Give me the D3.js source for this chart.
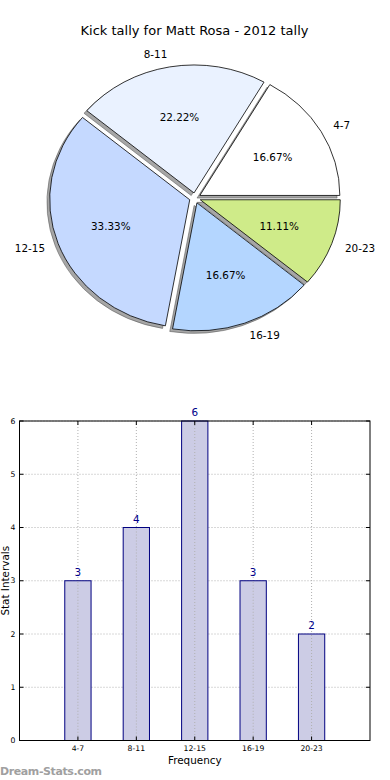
<!DOCTYPE html>
<html>
<head>
<meta charset="utf-8">
<script src="https://cdn.jsdelivr.net/npm/d3@7"></script>
<style>
  body { margin: 0; background: #fff; }
  svg { display: block; font-family: "DejaVu Sans", sans-serif; }
</style>
</head>
<body>
<script>
// chart data
const categories = ["4-7", "8-11", "12-15", "16-19", "20-23"];
const counts = [3, 4, 6, 3, 2];
const sliceColors = ["#ffffff", "#eaf2ff", "#c5d9ff", "#b4d6ff", "#cfeb89"];
const yTicks = [0, 1, 2, 3, 4, 5, 6];
const title = "Kick tally for Matt Rosa - 2012 tally";

const W = 390, H = 780;
const svg = d3.select("body").append("svg")
    .attr("width", W)
    .attr("height", H);

// ---- pie ----
const cx = 195, cy = 198;   // pie centre
const sx = 140, sy = 128;   // the pie is squashed (axes not equal)
const explode = 0.04;

svg.append("text")
    .attr("x", 194.5)
    .attr("y", 34.5)
    .attr("text-anchor", "middle")
    .attr("font-size", 13)
    .text(title);

// matplotlib style: start at 3 o'clock, go counter-clockwise
const pie = d3.pie().sort(null)
    .startAngle(Math.PI / 2)
    .endAngle(Math.PI / 2 - 2 * Math.PI);
const arcs = pie(counts);
const arc = d3.arc().innerRadius(0).outerRadius(1);
const total = d3.sum(counts);

arcs.forEach(d => {
    d.mid = (d.startAngle + d.endAngle) / 2;
    d.dx = explode * sx * Math.sin(d.mid);
    d.dy = -explode * sy * Math.cos(d.mid);
});

const pieG = svg.append("g");

// shadows first
pieG.selectAll("path.shadow")
    .data(arcs)
    .enter()
    .append("path")
    .attr("class", "shadow")
    .attr("d", arc)
    .attr("transform", d => `translate(${cx + d.dx - 2.8},${cy + d.dy + 2.6}) scale(${sx},${sy})`)
    .attr("fill", "#4d4d4d")
    .attr("fill-opacity", 0.5)
    .attr("stroke", "#4d4d4d")
    .attr("stroke-opacity", 0.5)
    .attr("stroke-width", 1)
    .attr("vector-effect", "non-scaling-stroke");

pieG.selectAll("path.wedge")
    .data(arcs)
    .enter()
    .append("path")
    .attr("class", "wedge")
    .attr("d", arc)
    .attr("transform", d => `translate(${cx + d.dx},${cy + d.dy}) scale(${sx},${sy})`)
    .attr("fill", (d, i) => sliceColors[i])
    .attr("stroke", "#000")
    .attr("stroke-width", 0.8)
    .attr("vector-effect", "non-scaling-stroke");

// outer labels
pieG.selectAll("text.lab")
    .data(arcs)
    .enter()
    .append("text")
    .attr("class", "lab")
    .attr("x", d => cx + d.dx + 1.1 * sx * Math.sin(d.mid))
    .attr("y", d => cy + d.dy - 1.1 * sy * Math.cos(d.mid))
    .attr("dy", "0.35em")
    .attr("text-anchor", d => Math.sin(d.mid) < 0 ? "end" : "start")
    .attr("font-size", 10.4)
    .text((d, i) => categories[i]);

// percentages
pieG.selectAll("text.pct")
    .data(arcs)
    .enter()
    .append("text")
    .attr("class", "pct")
    .attr("x", d => cx + d.dx + 0.6 * sx * Math.sin(d.mid))
    .attr("y", d => cy + d.dy - 0.6 * sy * Math.cos(d.mid))
    .attr("dy", "0.35em")
    .attr("text-anchor", "middle")
    .attr("font-size", 10.4)
    .text(d => (100 * d.data / total).toFixed(2) + "%");

// ---- bar chart ----
const plotL = 19.5, plotR = 370, plotT = 421, plotB = 740.5;
const x = d3.scaleLinear().domain([0, categories.length + 1]).range([plotL, plotR]);
const y = d3.scaleLinear().domain([0, 6]).range([plotB, plotT]);
const barW = 0.45;

const bar = svg.append("g");

// grid
bar.selectAll("line.gy")
    .data(yTicks)
    .enter()
    .append("line")
    .attr("x1", plotL).attr("x2", plotR)
    .attr("y1", d => y(d)).attr("y2", d => y(d))
    .attr("stroke", "#b0b0b0")
    .attr("stroke-dasharray", "1,2");

bar.selectAll("line.gx")
    .data(categories)
    .enter()
    .append("line")
    .attr("x1", (d, i) => x(i + 1)).attr("x2", (d, i) => x(i + 1))
    .attr("y1", plotT).attr("y2", plotB)
    .attr("stroke", "#b0b0b0")
    .attr("stroke-dasharray", "1,2");

bar.selectAll("rect.bar")
    .data(counts)
    .enter()
    .append("rect")
    .attr("class", "bar")
    .attr("x", (d, i) => x(i + 1 - barW / 2))
    .attr("width", x(barW) - x(0))
    .attr("y", d => y(d))
    .attr("height", d => y(0) - y(d))
    .attr("fill", "#cccce5")
    .attr("stroke", "#000080")
    .attr("stroke-width", 1);

// grid lines drawn over the bars too (as in the source)
bar.selectAll("line.gx2")
    .data(counts)
    .enter()
    .append("line")
    .attr("x1", (d, i) => x(i + 1)).attr("x2", (d, i) => x(i + 1))
    .attr("y1", d => y(d) + 1).attr("y2", plotB)
    .attr("stroke", "#b0b0b0")
    .attr("stroke-dasharray", "1,2");

bar.selectAll("text.val")
    .data(counts)
    .enter()
    .append("text")
    .attr("x", (d, i) => x(i + 1))
    .attr("y", d => y(d) - 5)
    .attr("text-anchor", "middle")
    .attr("font-size", 10.4)
    .attr("fill", "#00008b")
    .text(d => d);

// frame
bar.append("rect")
    .attr("x", plotL).attr("y", plotT)
    .attr("width", plotR - plotL).attr("height", plotB - plotT)
    .attr("fill", "none")
    .attr("stroke", "#000")
    .attr("stroke-width", 1);

// inward ticks on all four sides
yTicks.forEach(t => {
    bar.append("line").attr("x1", plotL).attr("x2", plotL + 4)
        .attr("y1", y(t)).attr("y2", y(t)).attr("stroke", "#000");
    bar.append("line").attr("x1", plotR - 4).attr("x2", plotR)
        .attr("y1", y(t)).attr("y2", y(t)).attr("stroke", "#000");
});
categories.forEach((c, i) => {
    bar.append("line").attr("x1", x(i + 1)).attr("x2", x(i + 1))
        .attr("y1", plotB).attr("y2", plotB - 4).attr("stroke", "#000");
    bar.append("line").attr("x1", x(i + 1)).attr("x2", x(i + 1))
        .attr("y1", plotT).attr("y2", plotT + 4).attr("stroke", "#000");
});

bar.selectAll("text.yt")
    .data(yTicks)
    .enter()
    .append("text")
    .attr("x", plotL - 4)
    .attr("y", d => y(d))
    .attr("dy", "0.35em")
    .attr("text-anchor", "end")
    .attr("font-size", 7.7)
    .text(d => d);

bar.selectAll("text.xt")
    .data(categories)
    .enter()
    .append("text")
    .attr("x", (d, i) => x(i + 1))
    .attr("y", 751)
    .attr("text-anchor", "middle")
    .attr("font-size", 7.7)
    .text(d => d);

svg.append("text")
    .attr("x", (plotL + plotR) / 2)
    .attr("y", 764)
    .attr("text-anchor", "middle")
    .attr("font-size", 10.4)
    .text("Frequency");

svg.append("text")
    .attr("transform", `translate(8.5,${(plotT + plotB) / 2}) rotate(-90)`)
    .attr("text-anchor", "middle")
    .attr("font-size", 10.4)
    .text("Stat Intervals");

svg.append("text")
    .attr("x", 0)
    .attr("y", 775)
    .attr("font-size", 11)
    .attr("font-weight", "bold")
    .attr("fill", "#a0a0a0")
    .attr("textLength", 102)
    .text("Dream-Stats.com");
</script>
</body>
</html>
